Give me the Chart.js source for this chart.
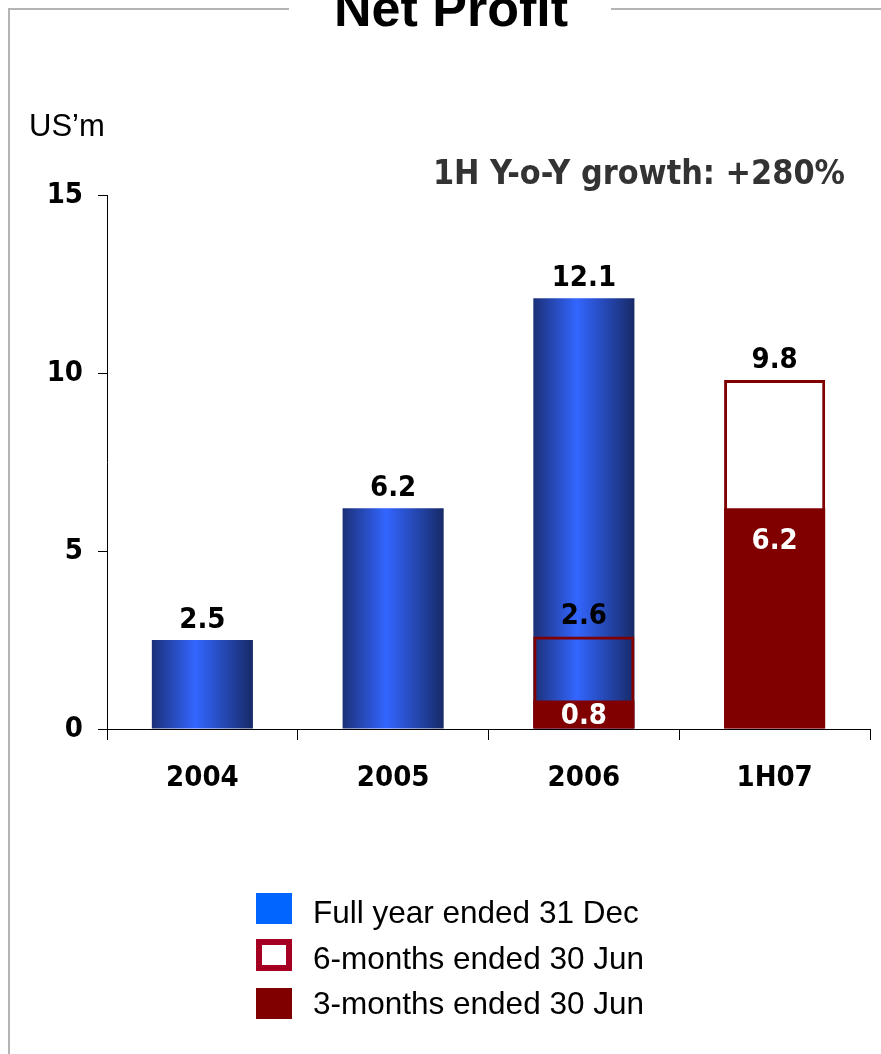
<!DOCTYPE html>
<html lang="en">

<head>
    <meta charset="UTF-8">
    <meta name="viewport" content="width=device-width, initial-scale=1.0">
    <title>Net Profit</title>
    <style>
        html, body { margin: 0; padding: 0; background: #fff; }
        canvas { display: block; }
    </style>
</head>

<body>
    <canvas id="grafica" width="881" height="1054"></canvas>

    <script src="https://cdn.jsdelivr.net/npm/chart.js@4.4.1/dist/chart.umd.min.js"></script>
    <script>

        //===================================================================
        //Data
        //===================================================================
        const categories = ['2004', '2005', '2006', '1H07'];
        const fullYear = [2.5, 6.2, 12.1, null];
        const sixMonths = [null, null, 2.6, 9.8];
        const threeMonths = [null, null, 0.8, 6.2];
        const yTicks = [0, 5, 10, 15];
        const seriesNames = ['Full year ended 31 Dec', '6-months ended 30 Jun', '3-months ended 30 Jun'];
        const chartTitle = 'Net Profit';
        const unitLabel = 'US\u2019m';
        const growthNote = '1H Y-o-Y growth: +280%';

        const BOLD_FONT = '"DejaVu Sans Condensed", "DejaVu Sans", sans-serif';
        const PLAIN_FONT = '"Liberation Sans", Arial, sans-serif';
        const BAR_PCT = 0.53;

        //Horizontal shading of the blue bars, built from the x scale
        function blueGradient(context) {
            const chart = context.chart;
            const xScale = chart.scales.x;
            if (!chart.chartArea || !xScale) return '#3366ff';
            const cx = xScale.getPixelForValue(context.dataIndex);
            const half = xScale.width / categories.length * BAR_PCT / 2;
            const g = chart.ctx.createLinearGradient(cx - half, 0, cx + half, 0);
            g.addColorStop(0, '#1c3078');
            g.addColorStop(0.43, '#3366ff');
            g.addColorStop(1, '#172a68');
            return g;
        }

        //===================================================================
        //Plugins: frame, texts, value labels, legend
        //===================================================================
        const decoration = {
            id: 'decoration',
            beforeDraw(chart) {
                const ctx = chart.ctx;
                ctx.save();
                ctx.fillStyle = '#fff';
                ctx.fillRect(0, 0, chart.width, chart.height);
                //grey frame broken by the title
                ctx.strokeStyle = '#b4b4b4';
                ctx.lineWidth = 2;
                ctx.beginPath();
                ctx.moveTo(9, chart.height);
                ctx.lineTo(9, 9);
                ctx.lineTo(289, 9);
                ctx.moveTo(611, 9);
                ctx.lineTo(chart.width, 9);
                ctx.stroke();
                ctx.restore();
            },
            afterDraw(chart) {
                const ctx = chart.ctx;
                ctx.save();
                ctx.fillStyle = '#000';
                ctx.textBaseline = 'alphabetic';

                ctx.font = 'bold 52px ' + PLAIN_FONT;
                ctx.textAlign = 'center';
                ctx.fillText(chartTitle, 451, 26);

                ctx.font = '31px ' + PLAIN_FONT;
                ctx.textAlign = 'left';
                ctx.fillText(unitLabel, 29, 136);

                //growth note fitted to its width in the picture
                ctx.font = 'bold 100px ' + BOLD_FONT;
                const size = 100 * 412 / ctx.measureText(growthNote).width;
                ctx.font = 'bold ' + size.toFixed(1) + 'px ' + BOLD_FONT;
                ctx.fillStyle = '#333333';
                ctx.textAlign = 'right';
                ctx.fillText(growthNote, 845, 184);

                //legend
                ctx.font = '31.5px ' + PLAIN_FONT;
                ctx.textAlign = 'left';
                const rowTops = [893, 939, 988];
                const textBase = [923, 969, 1014];
                chart.data.datasets.forEach((ds, i) => {
                    const top = rowTops[i];
                    if (ds.legendStroke) {
                        ctx.fillStyle = ds.legendStroke;
                        ctx.fillRect(256, top, 36, 32);
                        ctx.fillStyle = ds.legendFill;
                        ctx.fillRect(262, top + 6, 24, 20);
                    } else {
                        ctx.fillStyle = ds.legendFill;
                        ctx.fillRect(256, top, 36, 31);
                    }
                    ctx.fillStyle = '#000';
                    ctx.fillText(ds.label, 313, textBase[i]);
                });
                ctx.restore();
            }
        };

        const valueLabels = {
            id: 'valueLabels',
            afterDatasetsDraw(chart) {
                const ctx = chart.ctx;
                ctx.save();
                ctx.font = 'bold 29px ' + BOLD_FONT;
                ctx.textAlign = 'center';
                ctx.textBaseline = 'middle';
                chart.data.datasets.forEach((ds, i) => {
                    const meta = chart.getDatasetMeta(i);
                    meta.data.forEach((bar, j) => {
                        const v = ds.data[j];
                        if (v == null) return;
                        let y;
                        if (ds.labelInside) {
                            y = Math.min(bar.y + 33, (bar.y + bar.base) / 2 + 2);
                            ctx.fillStyle = '#fff';
                        } else {
                            y = bar.y - 20;
                            ctx.fillStyle = '#000';
                        }
                        ctx.fillText(v.toFixed(1), bar.x, y);
                    });
                });
                ctx.restore();
            }
        };

        //===================================================================
        //Chart
        //===================================================================
        const ctx = document.getElementById('grafica').getContext('2d');

        const grafica = new Chart(ctx, {
            type: 'bar',
            data: {
                labels: categories,
                datasets: [{
                    label: seriesNames[0],
                    data: fullYear,
                    backgroundColor: blueGradient,
                    order: 3,
                    legendFill: '#0066ff'
                }, {
                    label: seriesNames[1],
                    data: sixMonths,
                    backgroundColor: ['rgba(0,0,0,0)', 'rgba(0,0,0,0)', 'rgba(0,0,0,0)', '#ffffff'],
                    borderColor: '#800000',
                    borderWidth: 3,
                    borderSkipped: false,
                    order: 2,
                    legendFill: '#ffffff',
                    legendStroke: '#a50021'
                }, {
                    label: seriesNames[2],
                    data: threeMonths,
                    backgroundColor: '#800000',
                    order: 1,
                    labelInside: true,
                    legendFill: '#800000'
                }]
            },
            options: {
                responsive: false,
                animation: false,
                events: [],
                datasets: {
                    bar: { grouped: false, categoryPercentage: 1, barPercentage: BAR_PCT }
                },
                layout: { padding: { left: 0, right: 11, top: 195, bottom: 245 } },
                plugins: {
                    legend: { display: false },
                    tooltip: { enabled: false }
                },
                scales: {
                    x: {
                        afterFit: s => { s.height = 80; },
                        border: { color: '#000', width: 1 },
                        grid: { drawOnChartArea: false, color: '#000', tickLength: 11, offset: true },
                        ticks: {
                            color: '#000',
                            padding: 21,
                            font: { family: BOLD_FONT, size: 29, weight: 'bold' }
                        }
                    },
                    y: {
                        min: yTicks[0],
                        max: yTicks[yTicks.length - 1],
                        afterFit: s => { s.width = 107; },
                        afterBuildTicks: s => { s.ticks = yTicks.map(v => ({ value: v })); },
                        border: { color: '#000', width: 1 },
                        grid: { drawOnChartArea: false, color: '#000', tickLength: 9 },
                        ticks: {
                            color: '#000',
                            padding: 15,
                            font: { family: BOLD_FONT, size: 29, weight: 'bold' }
                        }
                    }
                }
            },
            plugins: [decoration, valueLabels]
        });

    </script>

</body>

</html>
